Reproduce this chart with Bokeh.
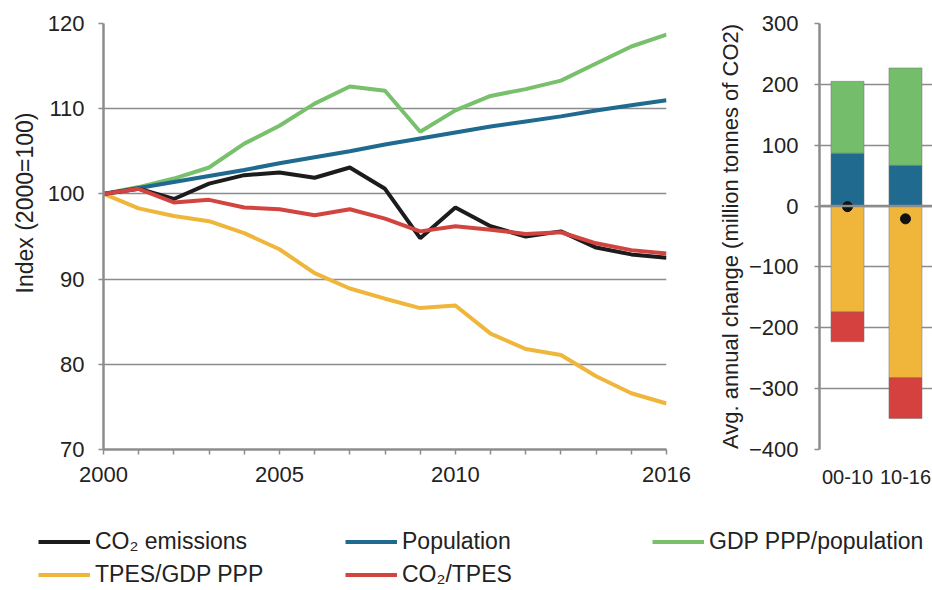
import numpy as np
from bokeh.plotting import figure
from bokeh.layouts import row, column
from bokeh.models import (Range1d, FixedTicker, Span, Legend, LegendItem, Title)
from bokeh.embed import file_html
from bokeh.resources import INLINE

# ---- data -------------------------------------------------------------
years = list(range(2000, 2017))
co2_emissions = [100.0, 100.6, 99.4, 101.2, 102.2, 102.5, 101.9, 103.1, 100.6,
                 94.8, 98.4, 96.2, 95.0, 95.6, 93.7, 92.9, 92.5]
population = [100.0, 100.7, 101.4, 102.1, 102.8, 103.6, 104.3, 105.0, 105.8,
              106.5, 107.2, 107.9, 108.5, 109.1, 109.8, 110.4, 111.0]
gdp_per_capita = [100.0, 100.8, 101.8, 103.1, 105.9, 108.0, 110.6, 112.6, 112.1,
                  107.3, 109.8, 111.5, 112.3, 113.3, 115.3, 117.3, 118.7]
tpes_per_gdp = [100.0, 98.3, 97.4, 96.8, 95.4, 93.5, 90.7, 88.9, 87.7,
                86.6, 86.9, 83.6, 81.8, 81.1, 78.6, 76.6, 75.4]
co2_per_tpes = [100.0, 100.6, 99.0, 99.3, 98.4, 98.2, 97.5, 98.2, 97.1,
                95.6, 96.2, 95.8, 95.3, 95.5, 94.2, 93.4, 93.0]

periods = ["00-10", "10-16"]
pop_effect = [87, 67]
gdp_effect = [118, 160]
tpes_effect = [-174, -282]
co2tpes_effect = [-49, -67]
net_change = [-1, -21]

year_labels = {2000: "2000", 2005: "2005", 2010: "2010", 2016: "2016"}

# ---- style ------------------------------------------------------------
FONT = "Liberation Sans"
GRID = "#8c8c8c"
TXT = "#222222"
C_CO2 = "#1c1c1c"
C_POP = "#1f6a8e"
C_GDP = "#78c06c"
C_TPES = "#f0b63c"
C_CT = "#d2443f"
LW = 4

series = [
    ("CO\u2082 emissions", co2_emissions, C_CO2),
    ("Population", population, C_POP),
    ("GDP PPP/population", gdp_per_capita, C_GDP),
    ("TPES/GDP PPP", tpes_per_gdp, C_TPES),
    ("CO\u2082/TPES", co2_per_tpes, C_CT),
]


def style_axis(ax, size="22px"):
    ax.axis_line_color = GRID
    ax.major_tick_line_color = GRID
    ax.minor_tick_line_color = None
    ax.major_label_text_font = FONT
    ax.major_label_text_font_size = size
    ax.major_label_text_color = TXT
    ax.axis_label_text_font = FONT
    ax.axis_label_text_font_size = "22px"
    ax.axis_label_text_font_style = "normal"
    ax.axis_label_text_color = TXT


# ---- left: index lines -------------------------------------------------
p1 = figure(width=700, height=495, x_range=Range1d(2000, 2016),
            y_range=Range1d(70, 120), output_backend="svg",
            toolbar_location=None, min_border_left=103, min_border_right=34,
            min_border_top=23, min_border_bottom=46)
p1.outline_line_color = None
p1.xgrid.visible = False
p1.ygrid.grid_line_color = GRID
p1.ygrid.grid_line_width = 1.5
p1.yaxis.ticker = FixedTicker(ticks=list(range(70, 121, 10)))
p1.xaxis.ticker = FixedTicker(ticks=years)
p1.xaxis.major_label_overrides = {y: year_labels.get(y, "") for y in years}
for ax in (p1.xaxis[0], p1.yaxis[0]):
    style_axis(ax)
    ax.axis_line_width = 2.5
    ax.major_tick_line_width = 1.5
    ax.major_tick_in = 0
    ax.major_tick_out = 5
p1.yaxis.major_label_standoff = 14
p1.xaxis.major_label_standoff = 12

# vertical axis title, set a little above the middle of the frame
p1.add_layout(Title(text="Index (2000=100)", align="right", offset=89,
                    text_font=FONT, text_font_size="23px",
                    text_font_style="normal", text_color=TXT,
                    standoff=14), "left")

draw_order = [2, 1, 3, 0, 4]
for i in draw_order:
    name, vals, col = series[i]
    p1.line(years, vals, line_color=col, line_width=LW)

# ---- right: decomposition bars -----------------------------------------
idx = np.arange(len(periods))
pop_a = np.array(pop_effect, dtype=float)
gdp_a = np.array(gdp_effect, dtype=float)
tp_a = np.array(tpes_effect, dtype=float)
ct_a = np.array(co2tpes_effect, dtype=float)

p2 = figure(width=232, height=495, x_range=Range1d(-0.483, 1.466),
            y_range=Range1d(-400, 300), output_backend="svg",
            toolbar_location=None, min_border_left=119, min_border_right=0,
            min_border_top=23, min_border_bottom=44)
p2.outline_line_color = None
p2.xgrid.visible = False
p2.ygrid.grid_line_color = GRID
p2.ygrid.grid_line_width = 1.5
p2.yaxis.ticker = FixedTicker(ticks=list(range(-400, 301, 100)))
p2.xaxis.ticker = FixedTicker(ticks=list(idx))
p2.xaxis.major_label_overrides = {int(i): periods[i] for i in idx}
style_axis(p2.yaxis[0])
style_axis(p2.xaxis[0], size="20px")
p2.yaxis.axis_line_width = 2.5
p2.yaxis.major_tick_line_width = 1.5
p2.yaxis.major_tick_in = 0
p2.yaxis.major_tick_out = 5
p2.yaxis.major_label_standoff = 16
p2.yaxis.axis_label = "Avg. annual change (million tonnes of CO2)"
p2.yaxis.axis_label_standoff = 3
p2.xaxis.axis_line_color = None
p2.xaxis.major_tick_line_color = None
p2.xaxis.major_label_standoff = 14

bw = 0.57
edge = dict(line_color="#6f6f6f", line_alpha=0.6, line_width=0.8)
p2.vbar(x=idx, width=bw, bottom=0, top=pop_a, fill_color=C_POP, **edge)
p2.vbar(x=idx, width=bw, bottom=pop_a, top=pop_a + gdp_a, fill_color="#74bd6b", **edge)
p2.vbar(x=idx, width=bw, bottom=0, top=tp_a, fill_color=C_TPES, **edge)
p2.vbar(x=idx, width=bw, bottom=tp_a, top=tp_a + ct_a, fill_color="#d4413e", **edge)
p2.add_layout(Span(location=0, dimension="width", line_color=GRID, line_width=2.5))
p2.scatter(idx, net_change, size=10, fill_color="#111111", line_color="#111111")

# ---- legend strip -------------------------------------------------------
# the series are drawn again here outside the visible range, so that the
# legend entries below the two panels get their line keys
pl = figure(width=932, height=95, x_range=Range1d(0, 1), y_range=Range1d(0, 1),
            x_axis_location=None, y_axis_location=None, output_backend="svg",
            toolbar_location=None, min_border=0)
pl.outline_line_color = None
pl.grid.visible = False

keys = {}
for name, vals, col in series:
    keys[name] = pl.line(years, vals, line_color=col, line_width=LW)

columns = [(38, ["CO\u2082 emissions", "TPES/GDP PPP"]),
           (345, ["Population", "CO\u2082/TPES"]),
           (652, ["GDP PPP/population"])]
for x0, names in columns:
    items = [LegendItem(label=n, renderers=[keys[n]]) for n in names]
    y0 = 95 - 30 - 33 * len(names)
    leg = Legend(items=items, location=(x0, y0), orientation="vertical",
                 border_line_color=None, background_fill_alpha=0,
                 padding=0, margin=0, spacing=0, glyph_width=52,
                 glyph_height=33, label_height=33, label_standoff=5,
                 label_text_font=FONT, label_text_font_size="23px",
                 label_text_color=TXT)
    pl.add_layout(leg)

layout = column(row(p1, p2), pl)
open("out.html", "w").write(file_html(layout, INLINE))
